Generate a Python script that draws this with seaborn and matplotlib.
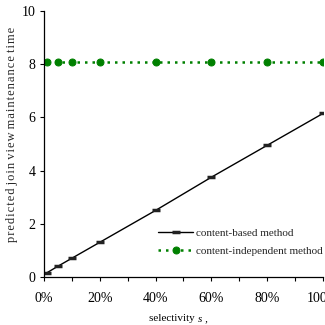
import matplotlib
matplotlib.use("Agg")
import matplotlib.pyplot as plt
import seaborn as sns
import pandas as pd
from matplotlib.ticker import MultipleLocator, FuncFormatter

selectivity = [1, 5, 10, 20, 40, 60, 80, 100]
content_based = [0.15, 0.4, 0.7, 1.3, 2.5, 3.75, 4.95, 6.15]
content_independent = [8.08, 8.08, 8.08, 8.08, 8.08, 8.08, 8.08, 8.08]
x_ticks = [0, 20, 40, 60, 80, 100]
y_ticks = [0, 2, 4, 6, 8, 10]

sns.set_theme(style="ticks")
plt.rcParams['font.family'] = ['Liberation Serif', 'DejaVu Serif']

fig = plt.figure(figsize=(3.25, 3.25), dpi=100)
ax = fig.add_axes([0.135, 0.148, 0.859, 0.818])

df = pd.DataFrame({"s": selectivity, "cb": content_based, "ci": content_independent})
sns.lineplot(data=df, x="s", y="cb", ax=ax, color="black", linewidth=1.0,
             marker="_", markersize=6, markeredgewidth=2.5,
             markeredgecolor="#222222",
             label="content-based method")
sns.lineplot(data=df, x="s", y="ci", ax=ax, color="#008000", linewidth=1.8,
             linestyle=(0, (1, 2)), marker="o", markersize=5,
             markeredgecolor="#008000", label="content-independent method")

ax.set_xlim(0, 100)
ax.set_ylim(0, 10)
ax.set_xticks(x_ticks)
ax.xaxis.set_minor_locator(MultipleLocator(10))
ax.set_yticks(y_ticks)
ax.xaxis.set_major_formatter(FuncFormatter(lambda v, p: f"{int(v)}%"))
ax.tick_params(axis='both', which='both', direction='out', labelsize=10,
               length=3, width=0.8, colors='black', pad=8)
ax.tick_params(axis='y', pad=3)
sns.despine(ax=ax)
for s in ["left", "bottom"]:
    ax.spines[s].set_color("black")
    ax.spines[s].set_linewidth(0.9)

hair = "\u200a"
ylabel = " ".join(hair.join(w) for w in "predicted join view maintenance time".split())
ax.set_ylabel(ylabel, fontsize=9, labelpad=4)
ax.yaxis.set_label_coords(-0.093, 0.534)

ax.set_xlabel("")
ax.text(0.552, -0.14, "selectivity ", transform=ax.transAxes, fontsize=8,
        ha="right", va="top", color="black")
ax.text(0.552, -0.14, "s ,", transform=ax.transAxes, fontsize=8,
        ha="left", va="top", style="italic", color="black")

leg = ax.legend(loc="lower right", bbox_to_anchor=(1.025, 0.05), frameon=False,
                fontsize=8, handlelength=3.2, handletextpad=0.2,
                labelspacing=0.75, borderpad=0.2)

fig.savefig("out.png", dpi=100)
